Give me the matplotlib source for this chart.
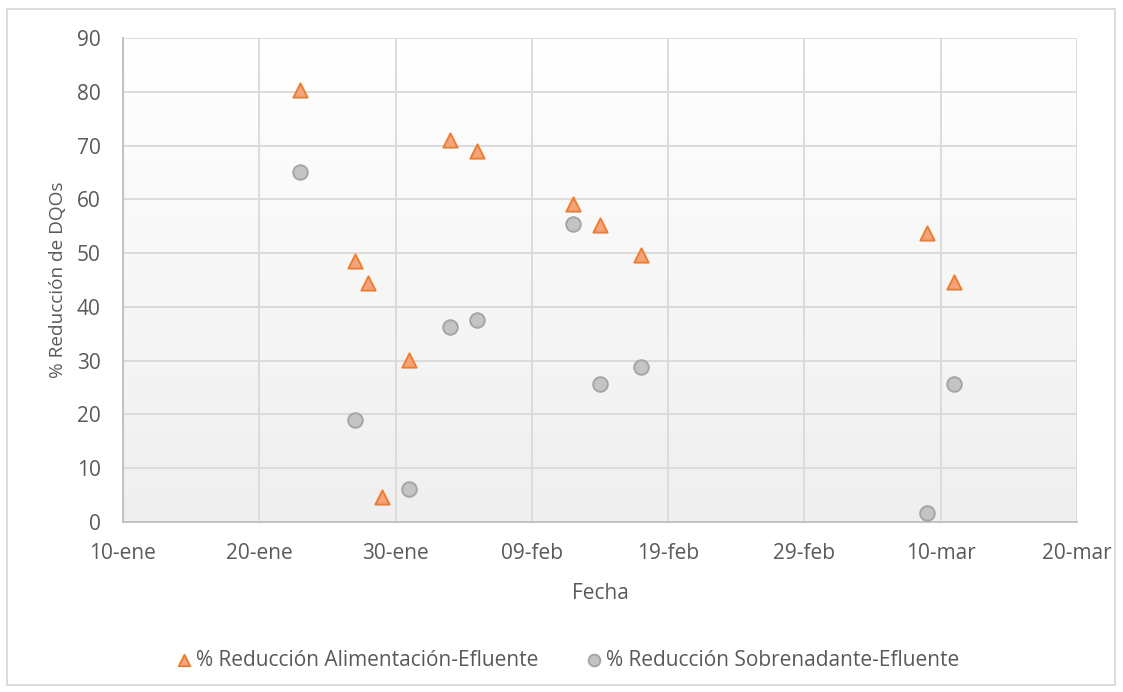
import datetime as dt

import matplotlib
matplotlib.use("Agg")
import matplotlib.pyplot as plt
import matplotlib.dates as mdates
from matplotlib.patches import Rectangle
import numpy as np

# datos (año 2020)
fechas_alim = ["2020-01-23", "2020-01-27", "2020-01-28", "2020-01-29", "2020-01-31",
               "2020-02-03", "2020-02-05", "2020-02-12", "2020-02-14", "2020-02-17",
               "2020-03-09", "2020-03-11"]
red_alim = [80.3, 48.5, 44.5, 4.6, 30.1, 71.0, 69.0, 59.1, 55.2, 49.6, 53.7, 44.7]

fechas_sobr = ["2020-01-23", "2020-01-27", "2020-01-31", "2020-02-03", "2020-02-05",
               "2020-02-12", "2020-02-14", "2020-02-17", "2020-03-09", "2020-03-11"]
red_sobr = [65.0, 18.9, 6.1, 36.3, 37.5, 55.5, 25.6, 28.8, 1.6, 25.6]

x_ticks = ["2020-01-10", "2020-01-20", "2020-01-30", "2020-02-09", "2020-02-19",
           "2020-02-29", "2020-03-10", "2020-03-20"]
x_tick_labels = ["10-ene", "20-ene", "30-ene", "09-feb", "19-feb", "29-feb", "10-mar", "20-mar"]
y_ticks = [0, 10, 20, 30, 40, 50, 60, 70, 80, 90]

label_alim = "% Reducción Alimentación-Efluente"
label_sobr = "% Reducción Sobrenadante-Efluente"

TEXT = "#595959"
GRID = "#d9d9d9"
FS = 15

plt.rcParams["font.family"] = ["Open Sans", "DejaVu Sans"]


def to_dates(lst):
    return [dt.datetime.strptime(s, "%Y-%m-%d") for s in lst]


fig = plt.figure(figsize=(11.23, 6.92), dpi=100)
ax = fig.add_axes([123 / 1123, 1 - 522 / 692, (1077 - 123) / 1123, (522 - 38) / 692])

# fondo degradado
grad = np.linspace(0.0, 1.0, 256).reshape(-1, 1)
cmap = matplotlib.colors.LinearSegmentedColormap.from_list("g", ["#efefef", "#ffffff"])
ax.imshow(grad, extent=[0, 1, 0, 1], transform=ax.transAxes, aspect="auto",
          cmap=cmap, zorder=0, origin="lower")

ax.scatter(to_dates(fechas_alim), red_alim, marker="^", s=105, color="#F4A47C",
           edgecolors="#ED7D31", linewidths=1.4, zorder=3, label=label_alim)
ax.scatter(to_dates(fechas_sobr), red_sobr, marker="o", s=110, color="#C4C4C4",
           edgecolors="#A5A5A5", linewidths=1.4, zorder=3, label=label_sobr)

xt = to_dates(x_ticks)
ax.set_xlim(xt[0], xt[-1])
ax.set_ylim(0, 90)
ax.set_xticks(mdates.date2num(xt))
ax.set_xticklabels(x_tick_labels)
ax.set_yticks(y_ticks)

ax.grid(True, color=GRID, linewidth=1.3, zorder=1)
ax.set_axisbelow(True)
for side in ["top", "right"]:
    ax.spines[side].set_visible(False)
for side in ["left", "bottom"]:
    ax.spines[side].set_color("#bfbfbf")
    ax.spines[side].set_linewidth(1.3)
ax.tick_params(length=0, labelsize=FS, colors=TEXT)
ax.tick_params(axis="x", pad=15)
ax.tick_params(axis="y", pad=16)

ax.set_xlabel("Fecha", fontsize=FS, color=TEXT, labelpad=14)
ax.set_ylabel("% Reducción de DQOs", fontsize=13.7, color=TEXT, labelpad=7)

fig.legend(loc="center", bbox_to_anchor=(568 / 1123, 1 - 660 / 692), ncol=2, frameon=False,
           fontsize=FS, labelcolor=TEXT, handlelength=0.75, handletextpad=0.2,
           columnspacing=2.3, markerscale=0.8)

fig.patches.append(Rectangle((7 / 1123, 1 - 685 / 692), 1108 / 1123, 676 / 692,
                             transform=fig.transFigure, fill=False,
                             edgecolor=GRID, linewidth=1.3))

fig.savefig("out.png", dpi=100)
